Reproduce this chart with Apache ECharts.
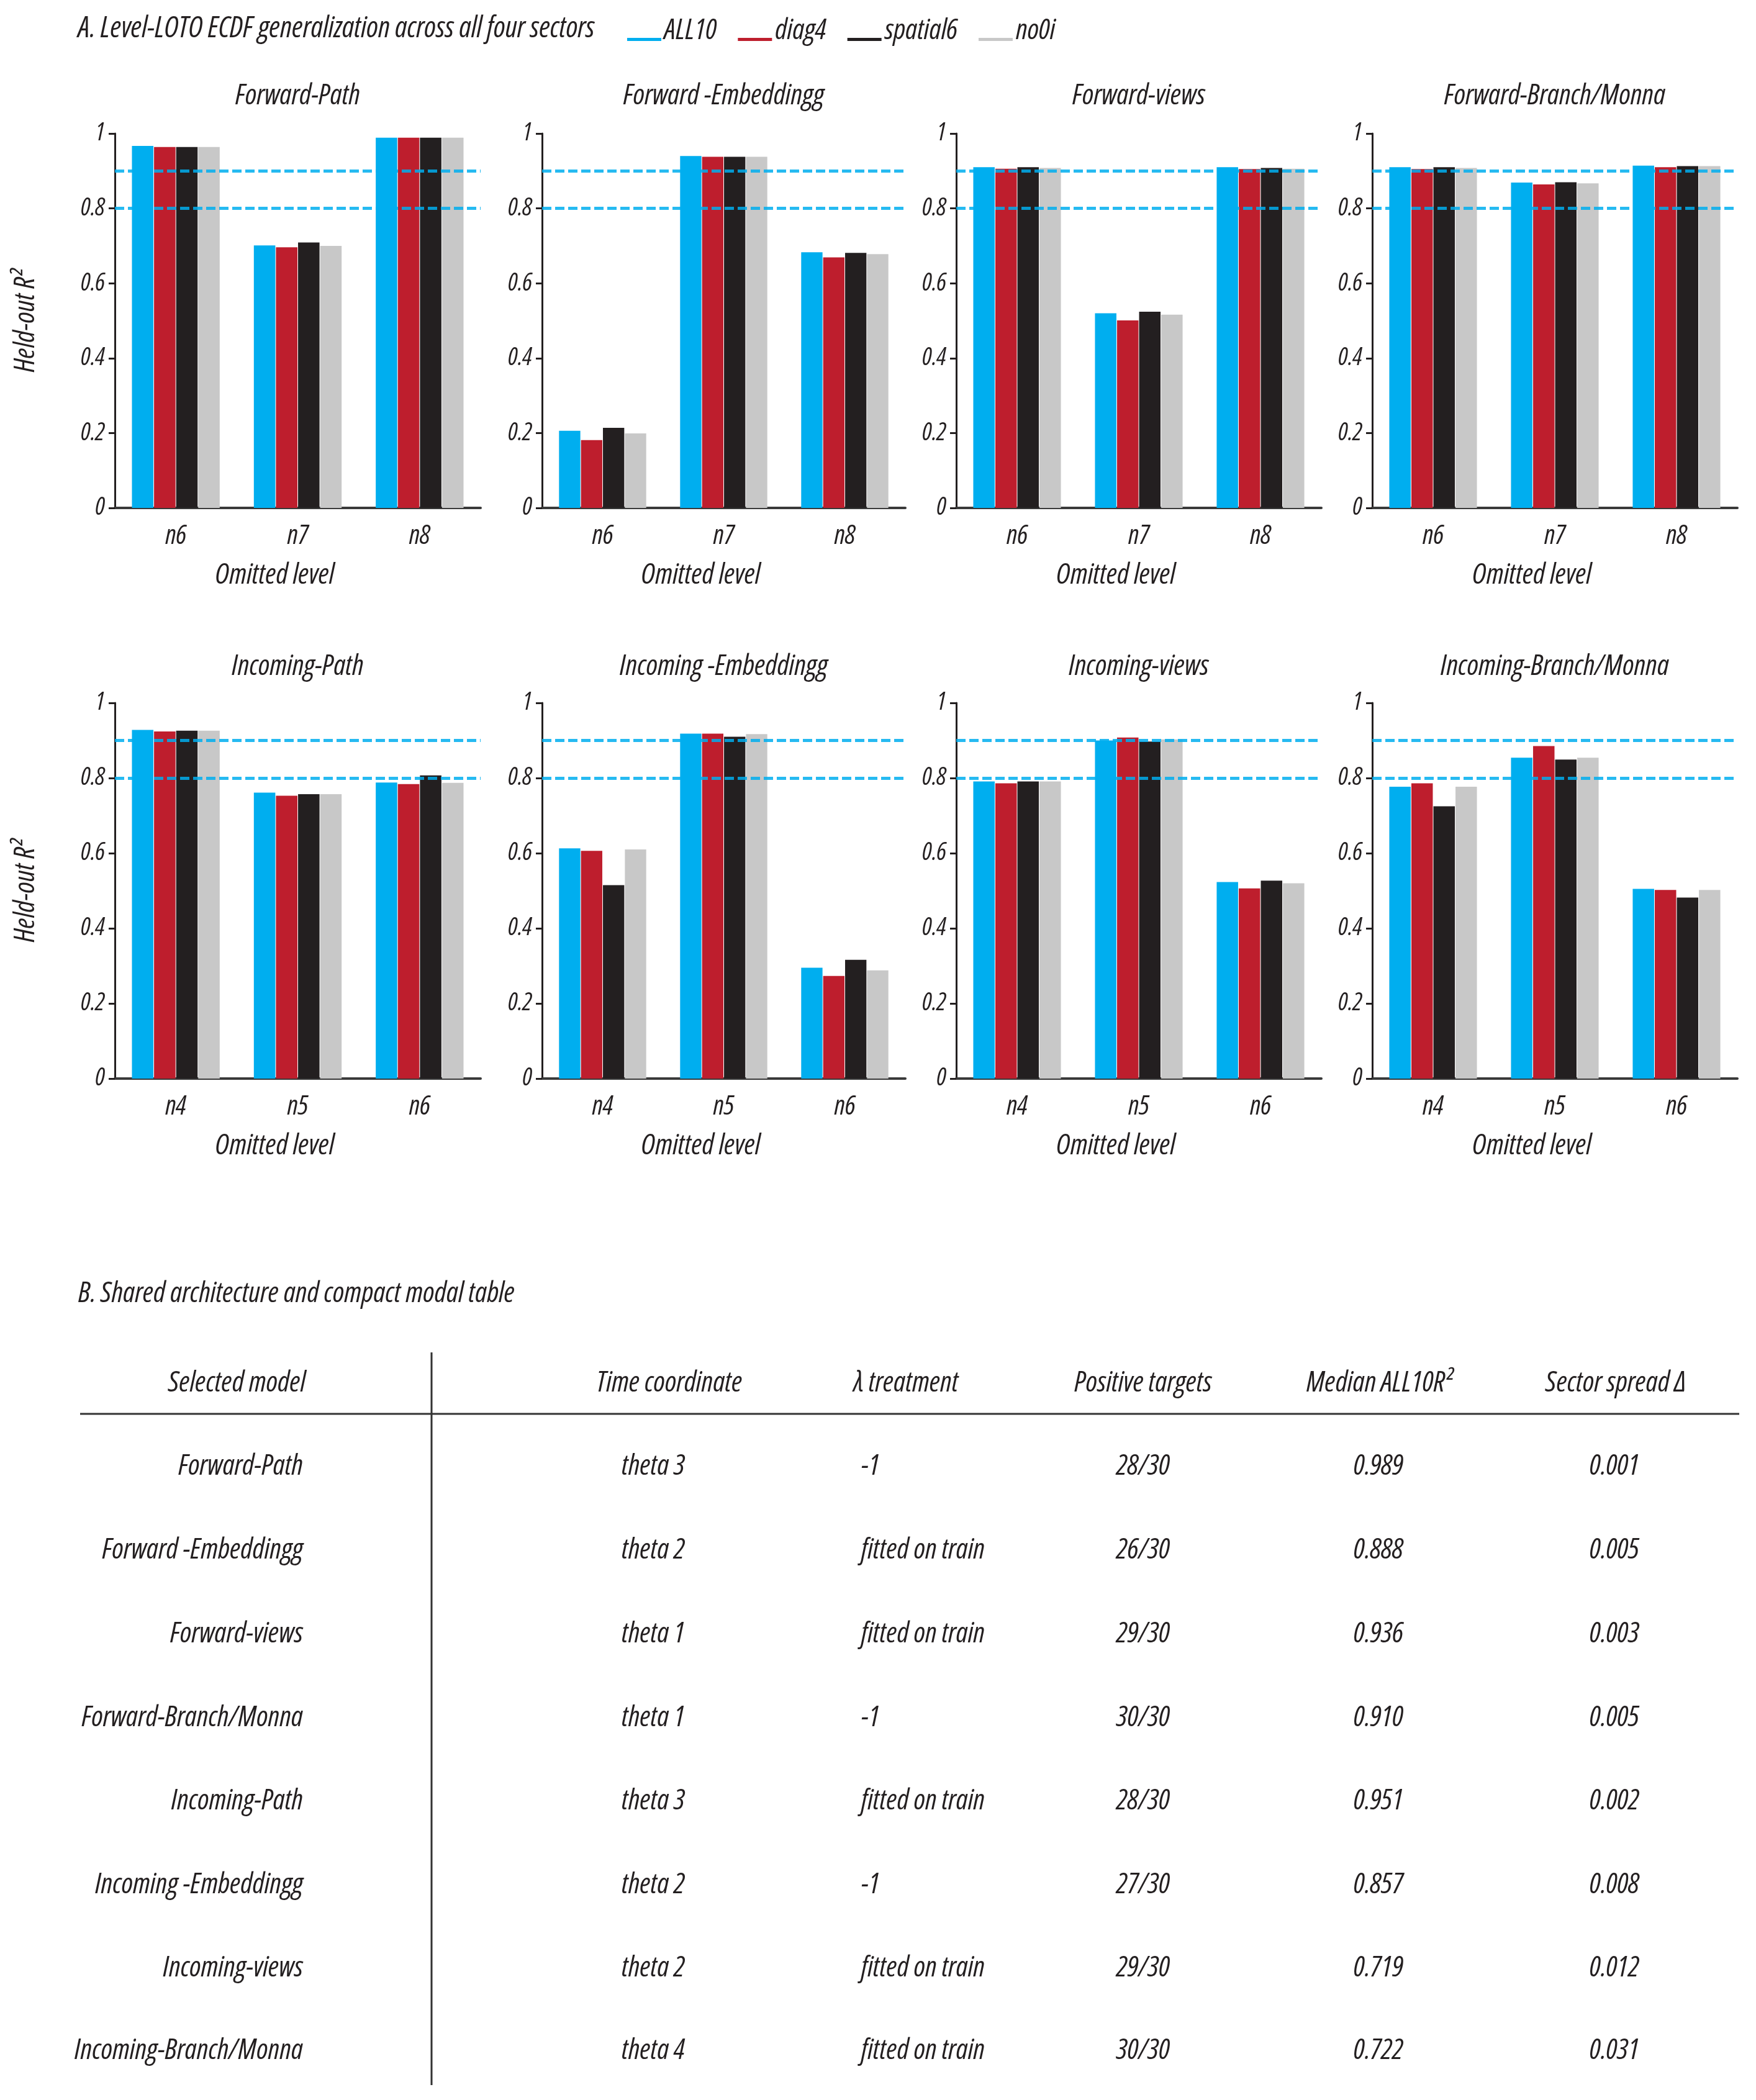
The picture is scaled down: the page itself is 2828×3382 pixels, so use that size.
<!DOCTYPE html>
<html>
<head>
<meta charset="utf-8">
<script src="https://cdn.jsdelivr.net/npm/echarts@6/dist/echarts.min.js"></script>
<style>
  body { margin: 0; background: #fff; }
  #chart { width: 2828px; height: 3382px; }
</style>
</head>
<body>
<div id="chart"></div>
<script>
// data
const seriesNames = ["ALL10", "diag4", "spatial6", "no0i"];
const seriesColors = ["#00aeef", "#be1e2d", "#231f20", "#c8c8c8"];
const levelsForward = ["n6", "n7", "n8"];
const levelsIncoming = ["n4", "n5", "n6"];
const panelTitles = [
  "Forward-Path", "Forward -Embeddingg", "Forward-views", "Forward-Branch/Monna",
  "Incoming-Path", "Incoming -Embeddingg", "Incoming-views", "Incoming-Branch/Monna"
];
const thresholds = [0.9, 0.8];

// one row per panel, three omitted levels each
const all10 = [
  [0.967, 0.701, 0.989], [0.206, 0.940, 0.683], [0.910, 0.520, 0.910], [0.910, 0.869, 0.914],
  [0.928, 0.761, 0.788], [0.613, 0.918, 0.295], [0.791, 0.900, 0.523], [0.777, 0.854, 0.505]
];
const diag4 = [
  [0.964, 0.696, 0.989], [0.181, 0.938, 0.669], [0.906, 0.501, 0.905], [0.905, 0.864, 0.910],
  [0.924, 0.753, 0.784], [0.606, 0.918, 0.273], [0.786, 0.908, 0.506], [0.786, 0.885, 0.502]
];
const spatial6 = [
  [0.964, 0.709, 0.989], [0.214, 0.938, 0.681], [0.910, 0.524, 0.908], [0.910, 0.870, 0.913],
  [0.926, 0.757, 0.807], [0.515, 0.910, 0.316], [0.791, 0.897, 0.527], [0.725, 0.849, 0.482]
];
const no0i = [
  [0.964, 0.700, 0.989], [0.199, 0.938, 0.678], [0.908, 0.516, 0.906], [0.908, 0.867, 0.913],
  [0.926, 0.757, 0.787], [0.610, 0.917, 0.288], [0.791, 0.903, 0.520], [0.777, 0.854, 0.502]
];

// table B
const tableHeaders = ["Selected model", "Time coordinate", "λ treatment", "Positive targets", "Median ALL10R²", "Sector spread Δ"];
const selectedModel = panelTitles;
const timeCoordinate = ["theta 3", "theta 2", "theta 1", "theta 1", "theta 3", "theta 2", "theta 2", "theta 4"];
const lambdaTreatment = ["-1", "fitted on train", "fitted on train", "-1", "fitted on train", "-1", "fitted on train", "fitted on train"];
const positiveTargets = ["28/30", "26/30", "29/30", "30/30", "28/30", "27/30", "29/30", "30/30"];
const medianAll10 = ["0.989", "0.888", "0.936", "0.910", "0.951", "0.857", "0.719", "0.722"];
const sectorSpread = ["0.001", "0.005", "0.003", "0.005", "0.002", "0.008", "0.012", "0.031"];

// Open Sans has a width axis, "condensed" gets close to the original condensed italic
const FAMILY = '"Open Sans", "Roboto Condensed", sans-serif';
const WEIGHT = "500 condensed"; // weight + stretch, ends up in the font shorthand
const INK = "#231f20";

function ts(size, extra) {
  return Object.assign({ fontFamily: FAMILY, fontStyle: "italic", fontWeight: WEIGHT, fontSize: size, color: INK }, extra || {});
}

const gridLefts = [185, 873, 1540, 2210];
const gridWidths = [589, 585, 588, 588];
const gridTops = [215, 1132];
const gridHeights = [603, 605];

const chart = echarts.init(document.getElementById("chart"));
const allValues = [all10, diag4, spatial6, no0i];

const grids = [], xAxes = [], yAxes = [], series = [], graphics = [];

function txt(x, y, text, size, align) {
  graphics.push({
    type: "text", x: x, y: y, silent: true,
    style: {
      text: text, fill: INK, font: "italic " + WEIGHT + " " + size + "px " + FAMILY,
      textAlign: align || "center", textVerticalAlign: "middle"
    }
  });
}

for (let p = 0; p < 8; p++) {
  const row = Math.floor(p / 4), col = p % 4;
  grids.push({
    left: gridLefts[col], top: gridTops[row],
    width: gridWidths[col], height: gridHeights[row]
  });
  xAxes.push({
    type: "category", gridIndex: p,
    data: row === 0 ? levelsForward : levelsIncoming,
    name: "Omitted level", nameLocation: "middle", nameGap: 86,
    // the original sits a little left of the axis centre
    nameTextStyle: ts(46, { padding: [0, 74, 0, 0] }),
    axisLine: { lineStyle: { color: "#3a3a3a", width: 4 } },
    axisTick: { alignWithLabel: true, length: 14, lineStyle: { color: INK, width: 3 } },
    axisLabel: ts(43, { margin: 24 })
  });
  yAxes.push({
    type: "value", gridIndex: p, min: 0, max: 1, interval: 0.2,
    name: col === 0 ? "Held-out R²" : "", nameLocation: "middle", nameGap: 120,
    nameTextStyle: ts(46),
    axisLine: { show: true, lineStyle: { color: INK, width: 3 } },
    axisTick: { show: true, length: 10, lineStyle: { color: INK, width: 3 } },
    splitLine: { show: false },
    axisLabel: ts(40, { margin: 16 })
  });
  for (let s = 0; s < 4; s++) {
    const ser = {
      type: "bar", name: seriesNames[s], xAxisIndex: p, yAxisIndex: p,
      data: allValues[s][p],
      barGap: "3%", barCategoryGap: "28%",
      itemStyle: { color: seriesColors[s] },
      emphasis: { disabled: true }
    };
    if (s === 3) {
      ser.markLine = {
        silent: true, symbol: ["none", "none"], z: 5,
        label: { show: false },
        lineStyle: { color: "rgba(0,174,239,0.85)", type: [15, 6], width: 5 },
        data: thresholds.map(v => ({ yAxis: v }))
      };
    }
    series.push(ser);
  }
  txt(gridLefts[col] + gridWidths[col] / 2, row === 0 ? 155 : 1074, panelTitles[p], 46);
}

// headings
txt(126, 47, "A. Level-LOTO ECDF generalization across all four sectors", 47, "left");
txt(126, 2084, "B. Shared architecture and compact modal table", 46, "left");

// table B
const headerY = 2228;
const rowYs = [2362, 2497, 2632, 2767, 2901, 3036, 3170, 3303];
txt(492, headerY, tableHeaders[0], 46, "right");
txt(1078, headerY, tableHeaders[1], 46);
txt(1459, headerY, tableHeaders[2], 46);
txt(1841, headerY, tableHeaders[3], 46);
txt(2222, headerY, tableHeaders[4], 46);
txt(2602, headerY, tableHeaders[5], 46);
for (let r = 0; r < selectedModel.length; r++) {
  const y = rowYs[r];
  txt(488, y, selectedModel[r], 46, "right");
  txt(1052, y, timeCoordinate[r], 46);
  txt(1387, y, lambdaTreatment[r], 46, "left");
  txt(1841, y, positiveTargets[r], 46);
  txt(2220, y, medianAll10[r], 46);
  txt(2600, y, sectorSpread[r], 46);
}
graphics.push({ type: "line", silent: true, shape: { x1: 129, y1: 2277, x2: 2801, y2: 2277 }, style: { stroke: "#333", lineWidth: 3 } });
graphics.push({ type: "line", silent: true, shape: { x1: 695, y1: 2178, x2: 695, y2: 3358 }, style: { stroke: "#333", lineWidth: 3 } });

chart.setOption({
  backgroundColor: "#fff",
  animation: false,
  legend: {
    data: seriesNames, left: 1005, top: 22,
    // short line sitting at the text baseline
    icon: "path://M0,0L0,0M0,27L55,27L55,32L0,32Z",
    itemWidth: 55, itemHeight: 32, itemGap: 34,
    textStyle: ts(46)
  },
  grid: grids,
  xAxis: xAxes,
  yAxis: yAxes,
  series: series,
  graphic: graphics
});
</script>
</body>
</html>
